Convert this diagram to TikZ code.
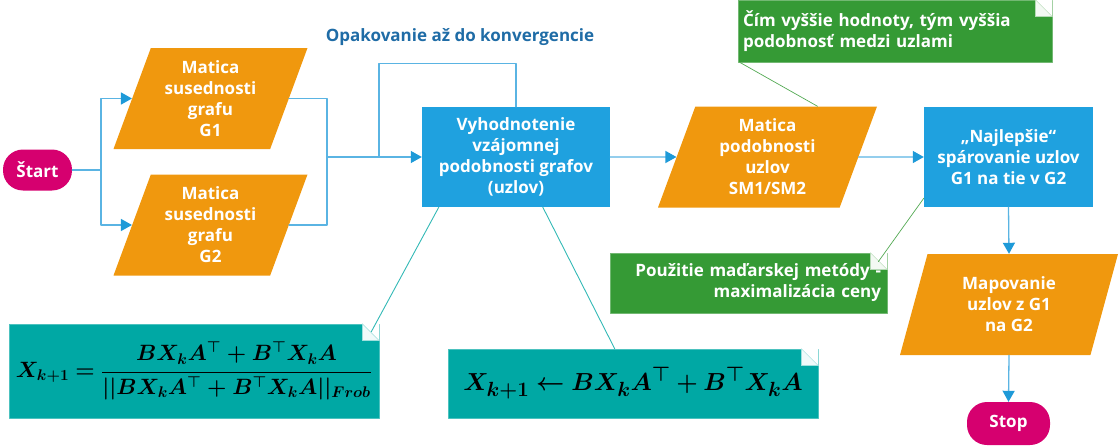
\documentclass[tikz,border=0pt]{standalone}
\usepackage{amsmath,bm,graphicx}
\usepackage[no-math]{fontspec}
\setmainfont{Open Sans}
\usepackage{tikz}
\usetikzlibrary{arrows.meta,positioning,calc,shapes.geometric}
\definecolor{flowblue}{HTML}{1FA1DF}
\definecolor{lineblue}{HTML}{5AB4E3}
\definecolor{tipblue}{HTML}{1E9AD8}
\definecolor{floworange}{HTML}{F0980E}
\definecolor{flowpink}{HTML}{D6006F}
\definecolor{notegreen}{HTML}{359A35}
\definecolor{noteteal}{HTML}{00A8A4}
\definecolor{labelblue}{HTML}{1F6CA6}
\newcommand{\boxfont}{\bfseries\fontsize{17}{21}\selectfont}
% folded top right corner of a note: node, fold size, colour
\newcommand{\foldcorner}[3]{%
  \fill[white] (#1.north east) -- ++(-#2,0) -- ++(#2,#2) -- cycle;
  \filldraw[fill=white!94!#3,draw=#3!35,line width=0.5pt]
    ($(#1.north east)+(-#2,0)$) -- ++(0,#2) -- ++(#2,0) -- cycle;}
\tikzset{
    every picture/.style={line cap=round,line join=round},
    boxtext/.style={text=white,font=\boxfont,align=center,inner sep=2pt},
    procbox/.style={boxtext,rectangle,fill=flowblue,minimum height=100pt},
    databox/.style={boxtext,trapezium,trapezium left angle=65,
      trapezium right angle=115,trapezium stretches body=true,
      fill=floworange,minimum height=101pt},
    termnode/.style={boxtext,rectangle,rounded corners=20pt,fill=flowpink,
      minimum height=41pt},
    greennote/.style={rectangle,fill=notegreen,draw=notegreen!70!white,
      line width=0.6pt,text=white,font=\boxfont,inner xsep=5pt,inner ysep=0pt},
    tealnote/.style={rectangle,fill=noteteal,draw=noteteal!70!white,
      line width=0.6pt,text=black,inner sep=0pt},
    flowline/.style={draw=lineblue,line width=1.3pt},
    flowarrow/.style={flowline,-{Triangle[length=11pt,width=12pt,color=tipblue]}},
    greenptr/.style={draw=notegreen!85!white,line width=0.7pt},
    tealptr/.style={draw=noteteal!80!white,line width=0.9pt}
}
\begin{document}
\begin{tikzpicture}[x=1pt,y=-1pt]
  \useasboundingbox (0,0) rectangle (1120,447);
  % flow nodes
  \node[termnode,minimum width=69pt] (start) at (37.5,170) {Štart};
  \node[databox,minimum width=194pt] (g1) at (210.5,98.5) {Matica\\susednosti\\grafu\\G1};
  \node[databox,minimum width=194pt] (g2) at (210.5,225) {Matica\\susednosti\\grafu\\G2};
  \node[procbox,minimum width=188pt] (vyh) at (516,157)
    {Vyhodnotenie\\vzájomnej\\podobnosti grafov\\(uzlov)};
  \node[databox,minimum width=219pt] (sm) at (767.5,157) {Matica\\podobnosti\\uzlov\\SM1/SM2};
  \node[procbox,minimum width=169pt] (best) at (1008.5,157)
    {„Najlepšie“\\spárovanie uzlov\\G1 na tie v G2};
  \node[databox,minimum width=218pt] (map) at (1009,304.5) {Mapovanie\\uzlov z G1\\na G2};
  \node[termnode,minimum width=83pt,minimum height=43pt] (stop) at (1008.5,423.5) {Stop};
  \node[text=labelblue,font=\boxfont] (looplabel) at (460,37) {Opakovanie až do konvergencie};
  % notes
  \node[greennote,minimum width=314pt,minimum height=62pt,text width=304pt,align=left]
    (hint1) at (895,31) {Čím vyššie hodnoty, tým vyššia\\podobnosť medzi uzlami};
  \foldcorner{hint1}{17}{notegreen}
  \node[greennote,minimum width=277pt,minimum height=60pt,text width=265pt,align=right]
    (hint2) at (748.5,283) {Použitie maďarskej metódy -\\maximalizácia ceny};
  \foldcorner{hint2}{17}{notegreen}
  \node[tealnote,minimum width=370pt,minimum height=94pt] (eq1) at (194,371)
    {\fontsize{20.74}{25}\selectfont\scalebox{1.07}{%
     $\bm{X_{k+1}=\dfrac{BX_kA^{\top}+B^{\top}X_kA}{||BX_kA^{\top}+B^{\top}X_kA||_{Frob}}}$}};
  \foldcorner{eq1}{17}{noteteal}
  \node[tealnote,minimum width=370pt,minimum height=69pt] (eq2) at (633,383.5)
    {\fontsize{24.88}{30}\selectfont\scalebox{0.99}{%
     $\bm{X_{k+1}\leftarrow BX_kA^{\top}+B^{\top}X_kA}$}};
  \foldcorner{eq2}{17}{noteteal}
  % connectors
  \coordinate (split) at (101,170);
  \coordinate (merge) at (327,157);
  \coordinate (loopc) at (379,157);
  \draw[flowline] (start.east) -- (split);
  \draw[flowarrow] (split) |- (g1.west);
  \draw[flowarrow] (split) |- (g2.west);
  \draw[flowline] (g1.east) -| (merge);
  \draw[flowline] (g2.east) -| (merge);
  \draw[flowarrow] (merge) -- (vyh.west);
  \draw[flowline] (vyh.north) -- ++(0,-43) -| (loopc);
  \draw[flowarrow] (vyh.east) -- (sm.west);
  \draw[flowarrow] (sm.east) -- (best.west);
  \draw[flowarrow] (best.south) -- (map.north);
  \draw[flowarrow] (map.south) -- (stop.north);
  % note pointers
  \draw[greenptr] ($(hint1.south west)+(2,0)$) -- ($(sm.north)+(50,0)$);
  \draw[greenptr] ($(best.south west)+(0,-9)$) -- ($(hint2.north east)+(-9,9)$);
  \draw[tealptr] ($(vyh.south west)+(17,0)$) -- ($(eq1.north east)+(-8,8)$);
  \draw[tealptr] ($(vyh.south west)+(121,0)$) -- ($(eq2.north west)+(167,0)$);
\end{tikzpicture}
\end{document}
